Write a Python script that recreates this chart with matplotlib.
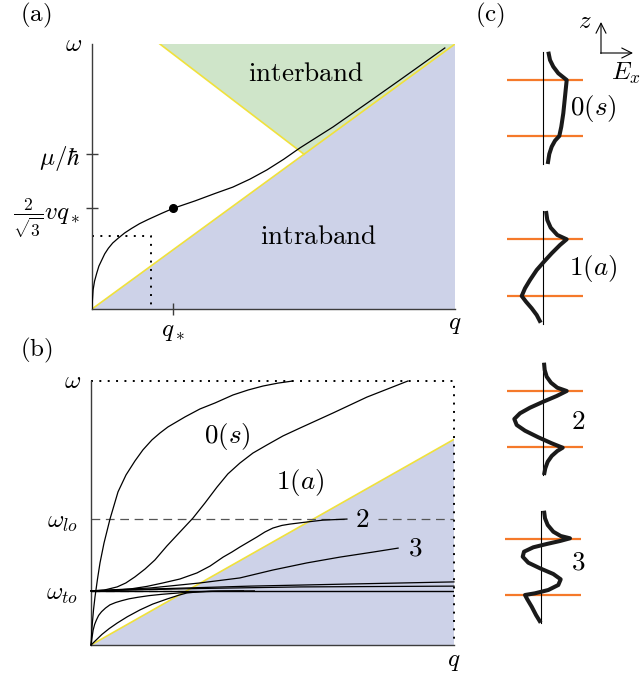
import matplotlib.pyplot as plt

plt.rcParams["mathtext.fontset"] = "cm"
plt.rcParams["font.size"] = 18

W, H = 644, 677

# (a) plasmon branch, normalised to the drawn q and omega range
plasmon_q = [0.0, 0.001, 0.003, 0.007, 0.013, 0.019, 0.027, 0.035, 0.045, 0.057,
             0.072, 0.090, 0.109, 0.131, 0.155, 0.192, 0.224, 0.284, 0.339, 0.388,
             0.435, 0.482, 0.528, 0.573, 0.664, 0.758, 0.848, 0.972]
plasmon_w = [0.0, 0.030, 0.072, 0.105, 0.135, 0.162, 0.185, 0.208, 0.229, 0.249,
             0.267, 0.287, 0.304, 0.322, 0.338, 0.361, 0.380, 0.408, 0.436, 0.460,
             0.490, 0.525, 0.565, 0.608, 0.687, 0.777, 0.864, 0.985]
q_star, w_star = 0.224, 0.380
guide_q, guide_w = 0.163, 0.274
mu_level = 0.584
interband_q0 = 0.187

# (b) phonon-polariton branches
slope_b = 0.779
w_lo, w_to = 0.477, 0.205
mode0_q = [0.0, 0.0028, 0.0069, 0.011, 0.0179, 0.0248, 0.0358, 0.0523, 0.0744,
           0.0964, 0.121, 0.143, 0.168, 0.190, 0.212, 0.259, 0.300, 0.342, 0.391,
           0.433, 0.474, 0.515, 0.556]
mode0_w = [0.0, 0.068, 0.133, 0.182, 0.250, 0.311, 0.386, 0.477, 0.580,
           0.644, 0.697, 0.739, 0.777, 0.803, 0.826, 0.864, 0.894, 0.917, 0.947,
           0.966, 0.981, 0.992, 1.0]
mode1_q = [0.0, 0.036, 0.072, 0.096, 0.121, 0.149, 0.176, 0.209, 0.245, 0.281,
           0.314, 0.347, 0.377, 0.410, 0.446, 0.485, 0.529, 0.576, 0.667, 0.760,
           0.873]
mode1_w = [0.205, 0.208, 0.220, 0.235, 0.258, 0.288, 0.322, 0.375, 0.428, 0.481,
           0.538, 0.598, 0.648, 0.689, 0.727, 0.758, 0.792, 0.822, 0.879, 0.939,
           1.0]
mode2_q = [0.0, 0.052, 0.107, 0.154, 0.198, 0.245, 0.292, 0.328, 0.364, 0.388,
           0.410, 0.457, 0.479, 0.501, 0.526, 0.548, 0.595, 0.639, 0.705]
mode2_w = [0.205, 0.206, 0.212, 0.222, 0.235, 0.250, 0.273, 0.299, 0.333, 0.352,
           0.371, 0.409, 0.428, 0.443, 0.453, 0.458, 0.466, 0.473, 0.477]
mode3_q = [0.0, 0.163, 0.300, 0.410, 0.501, 0.595, 0.686, 0.777, 0.846]
mode3_w = [0.205, 0.216, 0.235, 0.254, 0.284, 0.311, 0.333, 0.352, 0.367]
flat_a_q = [0.0, 0.163, 0.438, 0.713, 1.0]
flat_a_w = [0.205, 0.212, 0.223, 0.231, 0.239]
flat_b_q = [0.0, 0.300, 0.576, 1.0]
flat_b_w = [0.205, 0.214, 0.220, 0.223]
low1_q = [0.0, 0.003, 0.006, 0.010, 0.015, 0.021, 0.029, 0.040, 0.052, 0.068,
          0.085, 0.105, 0.130, 0.160, 0.195, 0.259, 0.35, 0.45]
low1_w = [0.0, 0.030, 0.057, 0.078, 0.095, 0.112, 0.126, 0.140, 0.152, 0.161,
          0.168, 0.175, 0.181, 0.187, 0.192, 0.199, 0.204, 0.205]
low2_q = [0.0, 0.015, 0.03, 0.05, 0.072, 0.10, 0.135, 0.17, 0.209, 0.24, 0.264,
          0.30, 0.33, 0.42]
low2_w = [0.0, 0.020, 0.04, 0.062, 0.083, 0.107, 0.133, 0.155, 0.174, 0.188,
          0.197, 0.202, 0.204, 0.205]
branch_labels = [r"$0(s)$", r"$1(a)$", r"$2$", r"$3$"]
branch_label_q = [0.375, 0.576, 0.747, 0.893]
branch_label_w = [0.788, 0.617, 0.473, 0.367]

# (c) field profiles E_x(z): offsets from the axis line, z from the top of each trace
prof_E = [
    [5.6, 7.3, 10.6, 15.6, 24, 22.3, 20.6, 18.6, 16.6, 12.3, 9, 6.6, 5],
    [3.3, 4.6, 8, 14.6, 24, 17.3, 9, 1.3, -6, -12.7, -17.7, -21, -16.7, -11, -6, -2],
    [1.3, 2.0, 4.0, 8.3, 14.6, 24.0, 14.0, 0.6, -12.7, -22.7, -28.4, -26.0, -17.7,
     -4.4, 9.0, 20.0, 14.6, 9.0, 5.0, 2.6, 1.3],
    [3, 4, 6.7, 12.3, 19.7, 29, 19, 5.7, -7.7, -17, -18.3, -12.7, -1, 12.3, 19.7,
     17.3, 7.3, -6, -16, -13.7, -9.3, -5, -0.3],
]
prof_z = [
    [0, 8.3, 15, 21.6, 28.3, 45, 61.6, 75, 84.3, 89, 95, 102.3, 112.3],
    [0, 9, 16.7, 24, 28.3, 34, 42.3, 50.7, 59, 69, 77.3, 85, 90.7, 97.3, 104, 111.7],
    [0, 7.3, 14.0, 20.0, 25.0, 28.3, 33.3, 39.0, 45.0, 50.6, 56.3, 62.3, 68.0,
     74.6, 80.6, 85.0, 88.3, 93.3, 99.0, 105.6, 112.3],
    [0, 7.6, 14.3, 21.0, 25.3, 27.6, 30.3, 33.3, 36.6, 41.0, 46.0, 52.0, 57.6,
     63.3, 68.6, 74.3, 79.3, 82.6, 84.3, 88.6, 96.0, 104.3, 112.0],
]
prof_x0 = [542.7, 542.7, 542.7, 541.0]
prof_top = [51.7, 211.0, 362.7, 510.7]
prof_labels = [r"$0(s)$", r"$1(a)$", r"$2$", r"$3$"]
prof_label_x = [593, 593, 578, 578]
prof_label_y = [108, 268, 422, 563]
layer_z = [28.3, 84.7]
trace_len = 112.5

GREEN = "#cfe5c9"
LAVENDER = "#cdd2e8"
YELLOW = "#f0e13c"
ORANGE = "#f5792a"
SPINE = "#3c3c3c"
LABEL_SIZE = 19.5


def box(x0, y0, x1, y1):
    return [x0 / W, 1 - y1 / H, (x1 - x0) / W, (y1 - y0) / H]


def frame(ax):
    ax.set_xlim(0, 1)
    ax.set_ylim(0, 1)
    for side in ("top", "right"):
        ax.spines[side].set_visible(False)
    for side in ("left", "bottom"):
        ax.spines[side].set_color(SPINE)
        ax.spines[side].set_linewidth(1.0)
    ax.set_facecolor("none")


fig = plt.figure(figsize=(W / 100, H / 100), dpi=100)

# ---- (a)
ax = fig.add_axes(box(92, 44, 455, 309))
frame(ax)
ax.fill([0, 1, 1], [0, 1, 0], color=LAVENDER, lw=0, zorder=0)
ax.fill([interband_q0, 1, mu_level], [1, 1, mu_level], color=GREEN, lw=0, zorder=0)
ax.plot([0, 1], [0, 1], color=YELLOW, lw=1.2, zorder=1)
ax.plot([interband_q0, mu_level], [1, mu_level], color=YELLOW, lw=1.2, zorder=1)
ax.plot([0, guide_q, guide_q], [guide_w, guide_w, 0], color="k",
        lw=1.4, ls=(0, (1, 3.3)), zorder=2)
ax.plot(plasmon_q, plasmon_w, color="k", lw=0.9, zorder=3)
ax.plot([q_star], [w_star], "o", color="k", ms=5.5, zorder=4)
ax.set_xticks([q_star], [r"$q_*$"])
ax.set_yticks([w_star, mu_level], [r"$\frac{2}{\sqrt{3}}vq_*$", r"$\mu/\hbar$"])
ax.tick_params(direction="inout", length=9, width=1.0, color=SPINE, pad=3)
ax.tick_params(axis="y", pad=4)
ax.text(-0.052, 1.0, r"$\omega$", ha="center", va="center")
ax.text(1.0, -0.055, r"$q$", ha="center", va="center")
ax.text(0.59, 0.885, r"$\mathrm{interband}$", ha="center", va="center",
        fontsize=LABEL_SIZE)
ax.text(0.625, 0.27, r"$\mathrm{intraband}$", ha="center", va="center",
        fontsize=LABEL_SIZE)

# ---- (b)
bx = fig.add_axes(box(91, 381, 454, 645))
frame(bx)
bx.fill([0, 1, 1], [0, slope_b, 0], color=LAVENDER, lw=0, zorder=0)
bx.plot([0, 1], [0, slope_b], color=YELLOW, lw=1.2, zorder=1)
bx.plot([0, 1, 1], [1, 1, 0], color="k", lw=1.4, ls=(0, (1, 3.3)), zorder=2,
        clip_on=False)
dash = (0, (7, 4.5))
bx.plot([0, 0.705], [w_lo, w_lo], color="#555555", lw=0.9, ls=dash, zorder=2)
bx.plot([0.79, 1], [w_lo, w_lo], color="#555555", lw=0.9, ls=dash, zorder=2)
bx.plot([0, 0.27], [w_to, w_to], color="#555555", lw=0.9, ls=dash, zorder=2)
bx.plot([0, 1], [w_to, w_to], color="k", lw=1.0, zorder=3)
for qq, ww in [(mode0_q, mode0_w), (mode1_q, mode1_w), (mode2_q, mode2_w),
               (mode3_q, mode3_w), (flat_a_q, flat_a_w), (flat_b_q, flat_b_w),
               (low1_q, low1_w), (low2_q, low2_w)]:
    bx.plot(qq, ww, color="k", lw=0.9, zorder=3, clip_on=False)
for lab, lq, lw_ in zip(branch_labels, branch_label_q, branch_label_w):
    bx.text(lq, lw_, lab, ha="center", va="center", zorder=4, fontsize=LABEL_SIZE)
bx.set_xticks([])
bx.set_yticks([w_lo, w_to], [r"$\omega_{lo}$", r"$\omega_{to}$"])
bx.tick_params(axis="y", length=0, pad=9)
bx.text(-0.052, 1.0, r"$\omega$", ha="center", va="center")
bx.text(1.0, -0.06, r"$q$", ha="center", va="center")

# ---- (c)
cx = fig.add_axes(box(480, 0, 644, 677))
cx.set_xlim(480, 644)
cx.set_ylim(677, 0)
cx.axis("off")
for E, z, x0, top in zip(prof_E, prof_z, prof_x0, prof_top):
    for lz in layer_z:
        cx.plot([x0 - 36, x0 + 40], [top + lz, top + lz], color=ORANGE, lw=1.6,
                solid_capstyle="butt", zorder=1)
    cx.plot([x0, x0], [top, top + trace_len], color="k", lw=0.8, zorder=2)
    cx.plot([x0 + e for e in E], [top + dz for dz in z], color="#1a1a1a", lw=2.9,
            solid_joinstyle="round", solid_capstyle="butt", zorder=3)
for lab, lx, ly in zip(prof_labels, prof_label_x, prof_label_y):
    cx.text(lx, ly, lab, ha="center", va="center", fontsize=LABEL_SIZE)
cx.annotate("", xy=(601, 22), xytext=(601, 53.5),
            arrowprops=dict(arrowstyle="->", lw=0.8, shrinkA=0, shrinkB=0))
cx.annotate("", xy=(633, 53), xytext=(600.6, 53),
            arrowprops=dict(arrowstyle="->", lw=0.8, shrinkA=0, shrinkB=0))
cx.text(585, 21, r"$z$", ha="center", va="center")
cx.text(626, 73, r"$E_x$", ha="center", va="center")

fig.text(36 / W, 1 - 15 / H, r"$\mathrm{(a)}$", ha="center", va="center")
fig.text(36 / W, 1 - 350 / H, r"$\mathrm{(b)}$", ha="center", va="center")
fig.text(490 / W, 1 - 15 / H, r"$\mathrm{(c)}$", ha="center", va="center")

fig.savefig("out.png", dpi=100)
